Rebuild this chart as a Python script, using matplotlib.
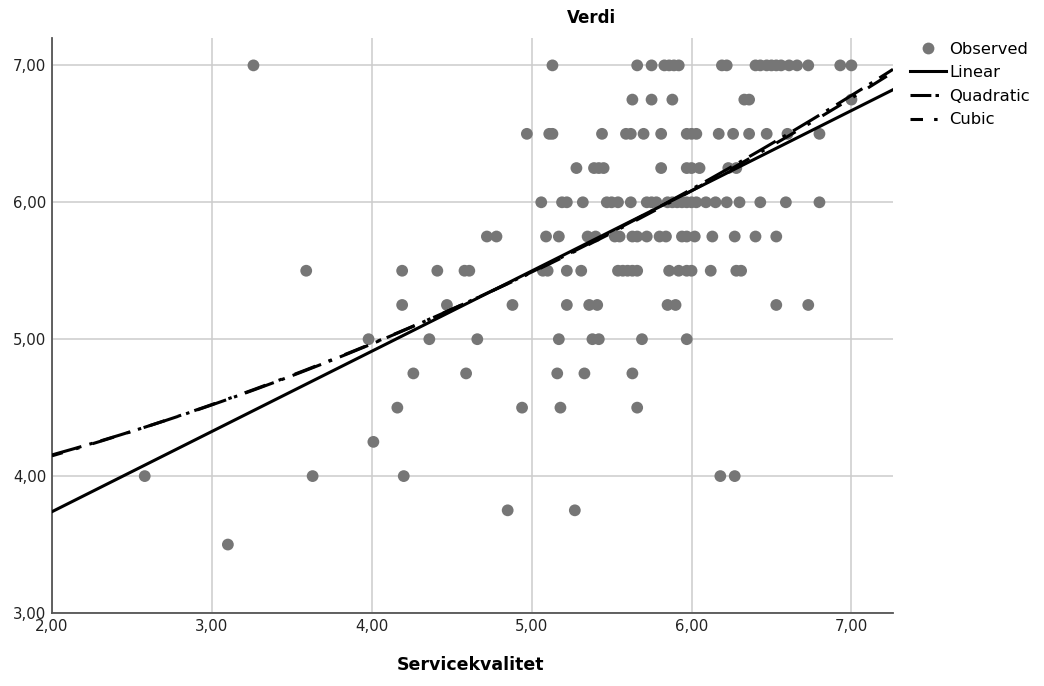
import numpy as np
import matplotlib
matplotlib.use("Agg")
from matplotlib import pyplot as plt
from matplotlib.lines import Line2D
from matplotlib.ticker import FuncFormatter

# observed cases, one line of source per Verdi level
servicekvalitet = [
    3.26, 5.13, 5.66, 5.75, 5.83, 5.86, 5.89, 5.92, 6.19, 6.22, 6.40, 6.43, 6.47, 6.50, 6.53, 6.56, 6.61, 6.66, 6.73, 6.93, 7.00,
    5.63, 5.75, 5.88, 6.33, 6.36, 7.00,
    4.97, 5.11, 5.13, 5.44, 5.59, 5.62, 5.70, 5.81, 5.97, 6.00, 6.03, 6.17, 6.26, 6.36, 6.47, 6.60, 6.80,
    5.28, 5.39, 5.42, 5.45, 5.81, 5.97, 6.00, 6.05, 6.23, 6.28,
    5.06, 5.19, 5.22, 5.32, 5.47, 5.50, 5.54, 5.62, 5.72, 5.75, 5.78, 5.85, 5.88, 5.91, 5.94, 5.97, 6.00, 6.03, 6.09, 6.15, 6.22, 6.30, 6.43, 6.59, 6.80,
    4.72, 4.78, 5.09, 5.17, 5.35, 5.40, 5.52, 5.55, 5.63, 5.66, 5.72, 5.80, 5.84, 5.94, 5.97, 6.02, 6.13, 6.27, 6.40, 6.53,
    3.59, 4.19, 4.41, 4.58, 4.61, 5.07, 5.10, 5.22, 5.31, 5.54, 5.57, 5.60, 5.63, 5.66, 5.86, 5.92, 5.97, 6.00, 6.12, 6.28, 6.31,
    4.19, 4.47, 4.88, 5.22, 5.36, 5.41, 5.85, 5.90, 6.53, 6.73,
    3.98, 4.36, 4.66, 5.17, 5.38, 5.42, 5.69, 5.97,
    4.26, 4.59, 5.16, 5.33, 5.63,
    4.16, 4.94, 5.18, 5.66,
    4.01,
    2.58, 3.63, 4.20, 6.18, 6.27,
    4.85, 5.27,
    3.10,
]
verdi = (
    [7.00] * 21 + [6.75] * 6 + [6.50] * 17 + [6.25] * 10 + [6.00] * 25
    + [5.75] * 20 + [5.50] * 21 + [5.25] * 10 + [5.00] * 8 + [4.75] * 5
    + [4.50] * 4 + [4.25] * 1 + [4.00] * 5 + [3.75] * 2 + [3.50] * 1
)

# fitted curves, coefficients lowest order first
linear_coef = [2.568, 0.586]
quadratic_coef = [3.663, 0.166, 0.0399]
cubic_coef = [3.600, 0.210, 0.031, 0.0005]

plt.rcParams["font.family"] = ["DejaVu Sans"]
plt.rcParams["lines.scale_dashes"] = False

fig = plt.figure(figsize=(10.44, 6.86), dpi=100)
ax = fig.add_axes([52 / 1044, 1 - 613 / 686, (893 - 52) / 1044, (613 - 38) / 686])

ax.set_xlim(2.0, 7.26)
ax.set_ylim(3.0, 7.2)
ax.set_xticks([2, 3, 4, 5, 6, 7])
ax.set_yticks([3, 4, 5, 6, 7])
comma = FuncFormatter(lambda v, p: f"{v:.2f}".replace(".", ","))
ax.xaxis.set_major_formatter(comma)
ax.yaxis.set_major_formatter(comma)
ax.grid(True, color="#cccccc", linewidth=1.1)
ax.set_axisbelow(True)
ax.tick_params(length=0, labelsize=10.8, colors="#222222", pad=4)
for s in ["top", "right"]:
    ax.spines[s].set_visible(False)
for s in ["left", "bottom"]:
    ax.spines[s].set_color("#555555")
    ax.spines[s].set_linewidth(1.3)

ax.scatter(servicekvalitet, verdi, s=72, color="#767676", edgecolors="none", zorder=2)

xs = np.linspace(2.0, 7.26, 300)
ax.plot(xs, np.polynomial.polynomial.polyval(xs, linear_coef), color="black",
        linewidth=2.2, zorder=3)
ax.plot(xs, np.polynomial.polynomial.polyval(xs, quadratic_coef), color="black",
        linewidth=2.2, linestyle=(0, (22, 6, 2.5, 6)), zorder=3)
ax.plot(xs, np.polynomial.polynomial.polyval(xs, cubic_coef), color="black",
        linewidth=2.2, linestyle=(8, (16, 10, 2.5, 10)), zorder=3)

fig.text(591 / 1044, 1 - 18 / 686, "Verdi", ha="center", va="center",
         fontsize=12, fontweight="bold")
fig.text(470 / 1044, 1 - 665 / 686, "Servicekvalitet", ha="center", va="center",
         fontsize=12.5, fontweight="bold")

# legend keys use shorter dash patterns so the dot shows in the key
handles = [
    Line2D([], [], marker="o", linestyle="none", markersize=8.5,
           color="#767676", markeredgecolor="none"),
    Line2D([], [], color="black", linewidth=2.2),
    Line2D([], [], color="black", linewidth=2.2, linestyle=(0, (15, 3, 2.5, 10))),
    Line2D([], [], color="black", linewidth=2.2, linestyle=(0, (9, 8, 2.5, 10))),
]
ax.legend(handles, ["Observed", "Linear", "Quadratic", "Cubic"],
          loc="upper left", bbox_to_anchor=(1.012, 1.005), frameon=False,
          fontsize=11.8, handlelength=2.2, handletextpad=0.2, labelspacing=0.52,
          borderaxespad=0.0)

fig.savefig("out.png", dpi=100)
